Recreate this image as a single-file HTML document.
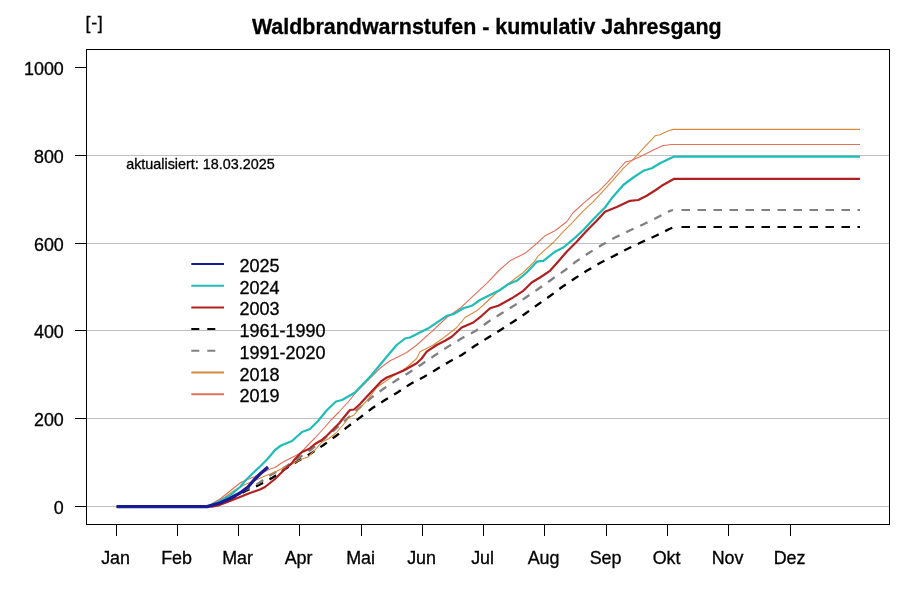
<!DOCTYPE html>
<html lang="de"><head><meta charset="utf-8"><title>Waldbrandwarnstufen - kumulativ Jahresgang</title>
<style>
html,body{margin:0;padding:0;background:#fff;}
svg{display:block;}
text{font-family:"Liberation Sans",sans-serif;fill:#000;stroke:#000;stroke-width:0.3px;}
.ax{font-size:17.9px;}
.lg{font-size:18px;}
</style></head><body>
<svg width="900" height="600" viewBox="0 0 900 600">
<rect width="900" height="600" fill="#fff"/>
<text x="486.8" y="33.6" text-anchor="middle" font-weight="bold" font-size="21.45px">Waldbrandwarnstufen - kumulativ Jahresgang</text>
<text x="85.6" y="29.2" class="ax" letter-spacing="0.6">[-]</text>
<line x1="87" x2="889.5" y1="506.50" y2="506.50" stroke="#bebebe" stroke-width="1"/>
<line x1="87" x2="889.5" y1="418.50" y2="418.50" stroke="#bebebe" stroke-width="1"/>
<line x1="87" x2="889.5" y1="330.50" y2="330.50" stroke="#bebebe" stroke-width="1"/>
<line x1="87" x2="889.5" y1="243.50" y2="243.50" stroke="#bebebe" stroke-width="1"/>
<line x1="87" x2="889.5" y1="155.50" y2="155.50" stroke="#bebebe" stroke-width="1"/>
<polyline points="116.7,506.6 208.0,506.6 220.0,503.5 232.0,498.0 245.5,491.0 258.5,485.3 272.5,477.7 285.0,469.0 298.3,460.8 311.7,453.0 323.5,445.0 335.5,436.3 347.5,426.8 360.3,417.3 372.5,408.0 385.0,400.0 397.5,392.5 410.0,384.2 424.2,376.7 436.7,369.2 449.2,361.7 461.7,355.0 475.0,345.8 488.3,337.5 501.7,329.2 513.3,321.7 525.8,313.3 538.3,304.2 550.0,296.0 562.0,287.0 575.0,278.3 586.7,270.8 600.0,263.0 613.3,256.3 626.7,249.2 640.8,242.5 655.8,235.8 670.0,228.7 674.0,227.0" fill="none" stroke="#000" stroke-width="2.3" stroke-dasharray="7.9 7.2" stroke-linejoin="round" stroke-dashoffset="7.4"/>
<line x1="674" x2="860" y1="227" y2="227" stroke="#000" stroke-width="2" stroke-dasharray="8.5 7.5" stroke-dashoffset="8.5"/>
<polyline points="116.7,506.6 208.0,506.6 220.0,503.0 232.0,497.0 245.0,490.0 258.5,483.3 271.5,474.5 285.8,466.7 298.0,458.5 310.5,450.0 322.0,441.0 335.0,429.3 347.5,418.3 360.5,407.0 372.5,396.7 384.2,388.3 396.7,380.0 409.2,372.5 421.7,364.2 434.2,355.8 447.5,347.0 461.7,338.3 475.8,330.8 488.3,321.7 501.7,313.3 515.0,305.0 528.3,295.8 539.2,288.3 553.3,278.3 564.2,270.8 575.8,261.7 588.3,253.3 601.7,245.0 615.0,237.5 629.2,230.8 642.5,224.7 655.8,218.3 670.0,210.8 673.0,210.0" fill="none" stroke="#808080" stroke-width="2.3" stroke-dasharray="8.1 7.37" stroke-linejoin="round" stroke-dashoffset="9.95"/>
<line x1="674" x2="860" y1="210" y2="210" stroke="#808080" stroke-width="2" stroke-dasharray="8.5 7.5" stroke-dashoffset="8.5"/>
<polyline points="116.7,506.6 208.0,506.6 215.0,503.0 225.0,497.0 235.0,490.0 245.0,484.5 255.0,480.5 265.0,476.0 275.0,472.0 282.0,468.5 290.0,465.0 295.0,462.5 302.0,459.0 308.0,457.0 315.0,450.0 322.0,442.0 329.0,438.5 336.0,433.0 343.0,425.0 349.0,417.5 354.0,415.0 358.0,410.0 366.7,400.8 376.7,387.5 393.3,375.8 406.7,367.5 416.7,358.5 420.0,351.7 433.3,345.0 445.0,336.7 456.7,327.5 465.0,317.5 476.7,310.8 483.3,305.0 496.7,292.5 513.3,280.0 523.3,272.5 535.0,260.8 538.3,255.8 553.3,242.5 563.3,231.7 573.3,221.7 583.3,210.8 593.3,201.7 603.3,190.8 611.7,181.7 623.3,168.3 633.3,159.2 645.0,146.7 655.0,135.8 660.0,134.7 668.3,130.8 673.3,129.4 860.0,129.4" fill="none" stroke="#d98a3c" stroke-width="1.1" stroke-linejoin="round"/>
<polyline points="116.7,506.6 208.0,506.6 213.0,503.0 220.0,499.0 230.0,491.0 240.0,483.0 245.0,480.5 255.0,476.5 265.0,471.5 270.0,469.0 275.0,467.5 280.0,464.0 285.0,461.0 289.0,459.0 295.0,456.0 301.0,452.5 308.0,445.0 315.0,438.0 325.0,427.0 331.0,420.0 339.0,412.0 349.0,401.0 355.0,393.3 366.7,381.7 380.0,368.3 390.0,360.8 393.3,359.2 406.7,352.5 416.7,345.0 431.7,331.7 446.7,317.5 460.0,308.3 473.3,295.8 486.7,283.3 500.0,269.5 510.0,260.8 525.0,253.3 535.0,245.0 545.0,235.8 555.0,230.8 566.7,221.7 573.3,212.5 583.3,203.3 593.3,195.0 598.3,191.7 608.3,181.7 618.3,170.0 625.8,161.7 630.8,160.8 640.0,156.7 653.3,150.0 663.3,145.5 671.7,144.5 860.0,144.5" fill="none" stroke="#e0705a" stroke-width="1.1" stroke-linejoin="round"/>
<polyline points="116.7,506.6 212.0,506.6 218.0,505.5 230.0,501.0 240.0,497.0 250.0,493.0 260.0,489.5 265.0,487.0 270.0,483.0 275.0,479.0 280.0,474.0 285.0,469.0 291.7,463.3 295.0,459.0 302.0,452.0 309.0,449.0 315.0,444.0 321.0,440.5 327.0,435.5 333.0,429.5 339.0,423.5 345.0,416.0 350.0,410.0 354.0,409.5 360.0,404.0 366.7,396.7 381.7,380.8 386.7,377.5 395.0,374.2 403.3,370.8 416.7,363.3 421.7,358.5 426.7,351.7 436.7,345.0 445.0,340.8 451.7,336.7 461.7,327.5 473.3,322.5 481.7,315.8 490.0,308.3 498.3,305.8 511.7,298.3 523.3,290.8 531.7,282.5 540.0,277.5 550.0,270.8 556.7,263.3 566.7,251.7 576.7,241.7 586.7,230.8 596.7,220.8 605.0,211.7 616.7,207.0 630.0,200.8 638.3,200.0 646.7,195.8 655.0,190.5 661.7,185.8 674.2,178.8 860.0,178.8" fill="none" stroke="#b02020" stroke-width="2.2" stroke-linejoin="round"/>
<polyline points="116.7,506.6 207.0,506.6 212.0,504.5 220.0,501.0 230.0,495.5 240.0,487.0 245.0,481.0 252.0,474.0 260.0,466.5 268.0,458.5 275.0,450.0 281.0,445.5 292.0,441.0 302.0,432.0 310.0,429.0 318.0,421.0 327.0,410.0 336.0,401.5 342.0,400.0 355.0,392.5 371.7,375.0 386.7,356.7 396.7,345.0 405.0,338.5 410.0,337.5 428.3,328.3 446.7,315.8 453.3,314.2 463.3,308.3 471.7,305.8 480.0,300.0 490.0,295.0 500.0,290.0 508.3,284.2 516.7,280.8 526.7,272.5 536.7,261.7 543.3,260.8 555.0,251.7 563.3,247.5 573.3,239.2 583.3,230.0 593.3,219.2 605.0,207.5 611.7,198.3 623.3,185.0 633.3,177.5 643.3,170.8 651.7,168.3 660.0,163.3 668.3,159.2 674.2,156.6 860.0,156.6" fill="none" stroke="#1fbdb8" stroke-width="2.2" stroke-linejoin="round"/>
<polyline points="116.7,506.6 207.0,506.6 209.0,506.0 220.0,503.0 230.0,498.5 240.0,493.0 248.0,487.0 254.0,480.0 260.0,474.0 268.0,467.0" fill="none" stroke="#1a1a94" stroke-width="3.2" stroke-linejoin="round"/>
<rect x="86.5" y="49.5" width="803" height="475" fill="none" stroke="#000" stroke-width="1"/>
<line x1="75" x2="86.5" y1="506.50" y2="506.50" stroke="#000" stroke-width="1"/>
<text x="63.8" y="514.00" text-anchor="end" class="ax">0</text>
<line x1="75" x2="86.5" y1="418.50" y2="418.50" stroke="#000" stroke-width="1"/>
<text x="63.8" y="426.00" text-anchor="end" class="ax">200</text>
<line x1="75" x2="86.5" y1="330.50" y2="330.50" stroke="#000" stroke-width="1"/>
<text x="63.8" y="338.00" text-anchor="end" class="ax">400</text>
<line x1="75" x2="86.5" y1="243.50" y2="243.50" stroke="#000" stroke-width="1"/>
<text x="63.8" y="251.00" text-anchor="end" class="ax">600</text>
<line x1="75" x2="86.5" y1="155.50" y2="155.50" stroke="#000" stroke-width="1"/>
<text x="63.8" y="163.00" text-anchor="end" class="ax">800</text>
<line x1="75" x2="86.5" y1="67.50" y2="67.50" stroke="#000" stroke-width="1"/>
<text x="63.8" y="75.00" text-anchor="end" class="ax">1000</text>
<line x1="116.50" x2="116.50" y1="524.5" y2="536" stroke="#000" stroke-width="1"/>
<text x="115.60" y="563.7" text-anchor="middle" class="ax">Jan</text>
<line x1="177.50" x2="177.50" y1="524.5" y2="536" stroke="#000" stroke-width="1"/>
<text x="176.60" y="563.7" text-anchor="middle" class="ax">Feb</text>
<line x1="238.50" x2="238.50" y1="524.5" y2="536" stroke="#000" stroke-width="1"/>
<text x="237.60" y="563.7" text-anchor="middle" class="ax">Mar</text>
<line x1="299.50" x2="299.50" y1="524.5" y2="536" stroke="#000" stroke-width="1"/>
<text x="298.60" y="563.7" text-anchor="middle" class="ax">Apr</text>
<line x1="361.50" x2="361.50" y1="524.5" y2="536" stroke="#000" stroke-width="1"/>
<text x="360.60" y="563.7" text-anchor="middle" class="ax">Mai</text>
<line x1="422.50" x2="422.50" y1="524.5" y2="536" stroke="#000" stroke-width="1"/>
<text x="421.60" y="563.7" text-anchor="middle" class="ax">Jun</text>
<line x1="483.50" x2="483.50" y1="524.5" y2="536" stroke="#000" stroke-width="1"/>
<text x="482.60" y="563.7" text-anchor="middle" class="ax">Jul</text>
<line x1="544.50" x2="544.50" y1="524.5" y2="536" stroke="#000" stroke-width="1"/>
<text x="543.60" y="563.7" text-anchor="middle" class="ax">Aug</text>
<line x1="606.50" x2="606.50" y1="524.5" y2="536" stroke="#000" stroke-width="1"/>
<text x="605.60" y="563.7" text-anchor="middle" class="ax">Sep</text>
<line x1="667.50" x2="667.50" y1="524.5" y2="536" stroke="#000" stroke-width="1"/>
<text x="666.60" y="563.7" text-anchor="middle" class="ax">Okt</text>
<line x1="728.50" x2="728.50" y1="524.5" y2="536" stroke="#000" stroke-width="1"/>
<text x="727.60" y="563.7" text-anchor="middle" class="ax">Nov</text>
<line x1="790.50" x2="790.50" y1="524.5" y2="536" stroke="#000" stroke-width="1"/>
<text x="789.60" y="563.7" text-anchor="middle" class="ax">Dez</text>
<text x="126.2" y="169" font-size="14.37px">aktualisiert: 18.03.2025</text>
<line x1="191.3" x2="224" y1="264.0" y2="264.0" stroke="#1a1a94" stroke-width="2"/>
<text x="239.4" y="272.0" class="lg">2025</text>
<line x1="191.3" x2="224" y1="285.7" y2="285.7" stroke="#1fbdb8" stroke-width="2"/>
<text x="239.4" y="293.7" class="lg">2024</text>
<line x1="191.3" x2="224" y1="307.4" y2="307.4" stroke="#b02020" stroke-width="2"/>
<text x="239.4" y="315.4" class="lg">2003</text>
<line x1="191.3" x2="223.2" y1="329.1" y2="329.1" stroke="#000" stroke-width="2" stroke-dasharray="8 8"/>
<text x="239.4" y="337.1" class="lg">1961-1990</text>
<line x1="191.3" x2="223.2" y1="350.8" y2="350.8" stroke="#808080" stroke-width="2" stroke-dasharray="8 8"/>
<text x="239.4" y="358.8" class="lg">1991-2020</text>
<line x1="191.3" x2="224" y1="372.5" y2="372.5" stroke="#d98a3c" stroke-width="2"/>
<text x="239.4" y="380.5" class="lg">2018</text>
<line x1="191.3" x2="224" y1="394.2" y2="394.2" stroke="#e0705a" stroke-width="2"/>
<text x="239.4" y="402.2" class="lg">2019</text>
</svg></body></html>
